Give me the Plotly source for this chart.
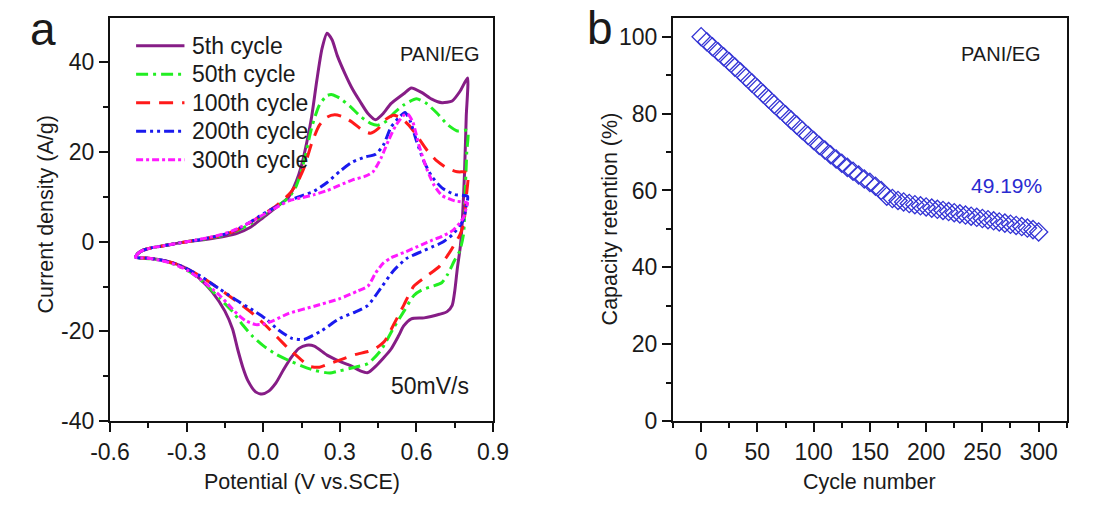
import plotly.graph_objects as go

# ---------------- Panel a: CV curves ----------------
V_low = [-0.5, -0.49, -0.47, -0.44, -0.4, -0.35, -0.3, -0.25, -0.2, -0.15, -0.1, -0.05, 0.0]

c5_V = V_low + [0.05, 0.1, 0.13, 0.15, 0.17, 0.19, 0.21, 0.23, 0.25, 0.27, 0.29, 0.32, 0.35, 0.38, 0.41, 0.44,
                0.47, 0.5, 0.55, 0.58, 0.62, 0.66, 0.7, 0.74, 0.77, 0.8,
                0.795, 0.788, 0.78, 0.772, 0.76, 0.75, 0.74, 0.72, 0.69, 0.63, 0.58, 0.55, 0.53, 0.5, 0.47, 0.44,
                0.41, 0.38, 0.34, 0.3, 0.25, 0.2, 0.17, 0.14, 0.11, 0.08, 0.05, 0.02, -0.005, -0.03, -0.06, -0.08,
                -0.1, -0.12, -0.15, -0.2, -0.25, -0.3, -0.35, -0.4, -0.45, -0.5]
c5_I = [-3.5, -2.6, -1.9, -1.4, -1.0, -0.5, 0.0, 0.3, 0.7, 1.2, 1.9, 3.2, 5.4,
        7.6, 10.0, 13.5, 17.0, 22.0, 28.0, 36.0, 43.0, 46.5, 45.0, 41.5, 37.5, 34.0, 31.2, 28.6, 27.2,
        28.6, 30.8, 33.0, 34.3, 33.3, 31.8, 31.0, 31.4, 33.5, 36.5,
        28.0, 15.0, 5.0, -1.0, -6.0, -11.0, -14.2, -15.6, -16.2, -17.0, -17.2, -18.8, -21.0, -24.0, -26.0, -27.8,
        -29.2, -28.8, -27.6, -26.7, -25.3, -23.3, -23.1, -23.8, -25.8, -28.5, -31.5, -33.4, -34.0, -33.5, -31.0, -28.0,
        -24.0, -19.5, -15.5, -11.2, -8.2, -6.0, -4.8, -4.1, -3.7, -3.5]

c50_V = V_low + [0.05, 0.1, 0.13, 0.16, 0.19, 0.22, 0.25, 0.27, 0.3, 0.34, 0.38, 0.42, 0.45, 0.48, 0.51, 0.55,
                 0.6, 0.64, 0.68, 0.72, 0.76, 0.8,
                 0.797, 0.79, 0.785, 0.77, 0.75, 0.72, 0.7, 0.66, 0.62, 0.59, 0.55, 0.51, 0.46, 0.41, 0.36, 0.3,
                 0.26, 0.2, 0.15, 0.1, 0.05, 0.0, -0.04, -0.08, -0.12, -0.17, -0.22, -0.28, -0.33, -0.38, -0.44, -0.5]
c50_I = [-3.5, -2.6, -1.9, -1.4, -1.0, -0.5, 0.0, 0.4, 0.9, 1.5, 2.5, 4.0, 5.9,
         7.8, 9.8, 12.5, 18.0, 25.5, 30.5, 32.6, 32.8, 32.0, 30.2, 28.0, 26.4, 26.0, 26.8, 28.6, 30.5,
         31.9, 30.8, 28.7, 26.2, 24.7, 24.8,
         20.0, 10.0, 2.0, -2.0, -4.1, -7.5, -9.1, -10.0, -10.8, -12.0, -15.6, -19.3, -24.3, -27.2, -28.0, -28.8,
         -29.3, -28.7, -27.7, -26.5, -25.1, -23.2, -21.2, -18.6, -15.6, -12.7, -9.8, -7.0, -5.5, -4.4, -3.8, -3.5]

c100_V = V_low + [0.05, 0.1, 0.13, 0.16, 0.19, 0.22, 0.25, 0.28, 0.31, 0.35, 0.39, 0.42, 0.45, 0.48, 0.51, 0.54,
                  0.57, 0.6, 0.64, 0.68, 0.72, 0.76, 0.8,
                  0.795, 0.785, 0.77, 0.75, 0.73, 0.69, 0.64, 0.59, 0.55, 0.51, 0.475, 0.44, 0.41, 0.36, 0.31,
                  0.26, 0.22, 0.18, 0.15, 0.1, 0.06, 0.01, -0.04, -0.09, -0.17, -0.245, -0.3, -0.345, -0.4, -0.45, -0.5]
c100_I = [-3.5, -2.6, -1.9, -1.4, -1.0, -0.5, 0.0, 0.45, 1.0, 1.6, 2.7, 4.3, 6.1,
          8.0, 10.5, 12.8, 16.5, 22.0, 26.0, 27.8, 28.3, 27.9, 26.6, 24.8, 24.2, 25.2, 27.3, 28.2, 27.6,
          26.0, 23.8, 20.5, 18.0, 16.4, 15.6, 15.4,
          10.0, 4.0, 1.5, -0.5, -2.4, -5.5, -7.7, -9.9, -14.2, -18.6, -22.2, -23.8, -24.5, -25.2, -26.2,
          -27.2, -28.0, -27.8, -26.4, -23.9, -21.6, -18.7, -16.1, -13.9, -10.6, -7.7, -6.0, -4.9, -4.1, -3.7, -3.5]

c200_V = V_low + [0.05, 0.1, 0.15, 0.2, 0.25, 0.3, 0.35, 0.4, 0.44, 0.47, 0.5, 0.53, 0.555, 0.575, 0.6, 0.63,
                  0.66, 0.7, 0.75, 0.8,
                  0.795, 0.785, 0.77, 0.74, 0.7, 0.66, 0.62, 0.56, 0.51, 0.46, 0.41, 0.36, 0.3, 0.23, 0.16, 0.11,
                  0.06, 0.01, -0.04, -0.09, -0.17, -0.245, -0.3, -0.345, -0.4, -0.45, -0.5]
c200_I = [-3.5, -2.6, -1.9, -1.4, -1.0, -0.5, 0.0, 0.45, 1.0, 1.7, 2.8, 4.4, 6.2,
          7.8, 9.2, 10.2, 11.3, 13.2, 15.7, 17.8, 18.9, 19.5, 21.5, 25.5, 27.6, 28.8, 27.0, 22.5, 17.8,
          14.6, 12.0, 10.5, 10.1,
          8.0, 5.0, 3.6, 1.5, -0.2, -1.2, -2.2, -3.8, -6.5, -10.4, -14.2, -15.7, -17.1, -19.8, -21.8, -21.5,
          -19.7, -17.2, -15.3, -13.6, -10.6, -7.7, -6.0, -4.9, -4.1, -3.7, -3.5]

c300_V = V_low + [0.05, 0.1, 0.15, 0.2, 0.25, 0.3, 0.35, 0.4, 0.43, 0.46, 0.49, 0.52, 0.55, 0.565, 0.585, 0.61,
                  0.64, 0.67, 0.7, 0.75, 0.8,
                  0.795, 0.785, 0.77, 0.74, 0.7, 0.66, 0.62, 0.56, 0.5, 0.47, 0.44, 0.41, 0.37, 0.3, 0.2, 0.1,
                  0.04, 0.0, -0.03, -0.07, -0.1, -0.13, -0.17, -0.245, -0.3, -0.345, -0.4, -0.45, -0.5]
c300_I = [-3.5, -2.6, -1.9, -1.4, -1.0, -0.5, 0.0, 0.5, 1.1, 1.8, 2.9, 4.4, 6.0,
          7.6, 9.1, 9.8, 10.5, 11.4, 12.6, 13.8, 14.6, 15.6, 18.5, 22.5, 26.0, 28.2, 28.5, 26.8, 21.5,
          16.3, 12.5, 10.3, 9.1, 8.6,
          7.5, 5.5, 4.2, 2.4, 1.2, 0.3, -0.7, -2.2, -3.6, -4.8, -7.0, -9.9, -11.0, -12.7, -14.4, -16.0,
          -17.6, -18.4, -18.5, -17.6, -16.2, -14.4, -12.0, -8.4, -6.3, -5.1, -4.2, -3.7, -3.5]

cv_names = ["5th cycle", "50th cycle", "100th cycle", "200th cycle", "300th cycle"]
cv_colors = ["#861d86", "#22ee22", "#ff1a1a", "#1a1aee", "#ff1aff"]
cv_dashes = ["solid", "12px,5px,3px,5px", "14px,9px", "10px,4px,3px,4px,3px,4px", "7px,3px,3px,3px"]
cv_V = [c5_V, c50_V, c100_V, c200_V, c300_V]
cv_I = [c5_I, c50_I, c100_I, c200_I, c300_I]

# ---------------- Panel b: capacity retention ----------------
cycles = list(range(0, 301, 5))
retention = [100.0, 98.7, 97.4, 96.1, 94.8, 93.5, 92.1, 90.8, 89.4, 88.0,
             86.6, 85.2, 83.8, 82.4, 81.0, 79.7, 78.3, 77.0, 75.6, 74.3,
             73.0, 71.7, 70.5, 69.3, 68.2, 67.1, 66.0, 65.0, 64.0, 63.0,
             62.1, 61.1, 60.0, 58.5, 57.9, 57.4, 57.0, 56.6, 56.3, 56.0,
             55.7, 55.4, 55.1, 54.8, 54.5, 54.2, 53.9, 53.6, 53.3, 53.0,
             52.7, 52.4, 52.1, 51.8, 51.5, 51.2, 50.9, 50.6, 50.2, 49.8, 49.19]

xa_ticks = [-0.6, -0.3, 0.0, 0.3, 0.6, 0.9]
xa_text = ["-0.6", "-0.3", "0.0", "0.3", "0.6", "0.9"]
xa_minor = [-0.45, -0.15, 0.15, 0.45, 0.75]
ya_ticks = [-40, -20, 0, 20, 40]
ya_text = ["-40", "-20", "0", "20", "40"]
ya_minor = [-30, -10, 10, 30]
xb_ticks = [0, 50, 100, 150, 200, 250, 300]
xb_minor = [-25, 25, 75, 125, 175, 225, 275, 325]
yb_ticks = [0, 20, 40, 60, 80, 100]
yb_minor = [10, 30, 50, 70, 90]

FONT = "Liberation Sans, Arial, sans-serif"
TXT = "#1a1a1a"
W, H = 1105, 510

fig = go.Figure()
for n, c, d, v, i in zip(cv_names, cv_colors, cv_dashes, cv_V, cv_I):
    fig.add_trace(go.Scatter(x=v, y=i, mode="lines", name=n, showlegend=False,
                             line=dict(color=c, width=3, dash=d, shape="spline", smoothing=0.6),
                             xaxis="x", yaxis="y"))

fig.add_trace(go.Scatter(x=cycles, y=retention, mode="markers", showlegend=False,
                         marker=dict(symbol="diamond-open", size=14, color="#3535d5",
                                     line=dict(width=1.3, color="#3535d5")),
                         xaxis="x2", yaxis="y2"))

ydom = [78 / H, 492 / H]
minor_common = dict(tickmode="array", ticklen=5, tickwidth=2, ticks="outside", tickcolor="#111")
axis_common = dict(showline=True, linecolor="#111", linewidth=2, mirror=True, ticks="outside",
                   ticklen=9, tickwidth=2, tickcolor="#111", showgrid=False, zeroline=False,
                   tickfont=dict(family=FONT, size=23, color=TXT))

fig.update_layout(
    width=W, height=H, margin=dict(l=0, r=0, t=0, b=0),
    paper_bgcolor="white", plot_bgcolor="white",
    font=dict(family=FONT, color=TXT),
    xaxis=dict(domain=[93 / W, 489 / W], range=[-0.6, 0.9], tickmode="array",
               tickvals=xa_ticks, ticktext=xa_text, minor=dict(tickvals=xa_minor, **minor_common),
               anchor="y", **axis_common),
    yaxis=dict(domain=ydom, range=[-40, 50], tickmode="array", tickvals=ya_ticks, ticktext=ya_text,
               minor=dict(tickvals=ya_minor, **minor_common), anchor="x", **axis_common),
    xaxis2=dict(domain=[675 / W, 1082 / W], range=[-25, 325], tickmode="array",
                tickvals=xb_ticks, minor=dict(tickvals=xb_minor, **minor_common),
                anchor="y2", **axis_common),
    yaxis2=dict(domain=ydom, range=[0, 105], tickmode="array", tickvals=yb_ticks,
                minor=dict(tickvals=yb_minor, **minor_common), anchor="x2", **axis_common),
    showlegend=False,
)

# manual legend (layout only: sample line + label)
for k, (n, c, d) in enumerate(zip(cv_names, cv_colors, cv_dashes)):
    yk = 47 + 29.25 * k
    fig.add_shape(type="line", xref="paper", yref="paper", x0=120 / W, x1=170 / W,
                  y0=1 - yk / H, y1=1 - yk / H, line=dict(color=c, width=3, dash=d))
    fig.add_annotation(xref="paper", yref="paper", x=176 / W, y=1 - yk / H, text=n, showarrow=False,
                       xanchor="left", yanchor="middle", font=dict(family=FONT, size=23, color=TXT))

ann = [
    dict(text="a", x=24 / W, y=1 - 30 / H, font=dict(size=46)),
    dict(text="b", x=600 / W, y=1 - 29 / H, font=dict(size=46)),
    dict(text="PANI/EG", x=434 / W, y=1 - 55 / H, font=dict(size=20)),
    dict(text="PANI/EG", x=1014 / W, y=1 - 55 / H, font=dict(size=20)),
    dict(text="50mV/s", x=424 / W, y=1 - 396 / H, font=dict(size=23)),
    dict(text="49.19%", x=1020 / W, y=1 - 190 / H, font=dict(size=21, color="#2a2ad0")),
    dict(text="Potential (V vs.SCE)", x=291 / W, y=1 - 495 / H, font=dict(size=21.5)),
    dict(text="Cycle number", x=878 / W, y=1 - 495 / H, font=dict(size=21.5)),
    dict(text="Current density (A/g)", x=27 / W, y=1 - 220 / H, font=dict(size=21.5), textangle=-90),
    dict(text="Capacity retention (%)", x=610 / W, y=1 - 225 / H, font=dict(size=21.5), textangle=-90),
]
for a in ann:
    f = dict(family=FONT, color=TXT)
    f.update(a.pop("font"))
    fig.add_annotation(xref="paper", yref="paper", showarrow=False, xanchor="center", yanchor="middle",
                       font=f, **a)

fig.write_html("out.html")
